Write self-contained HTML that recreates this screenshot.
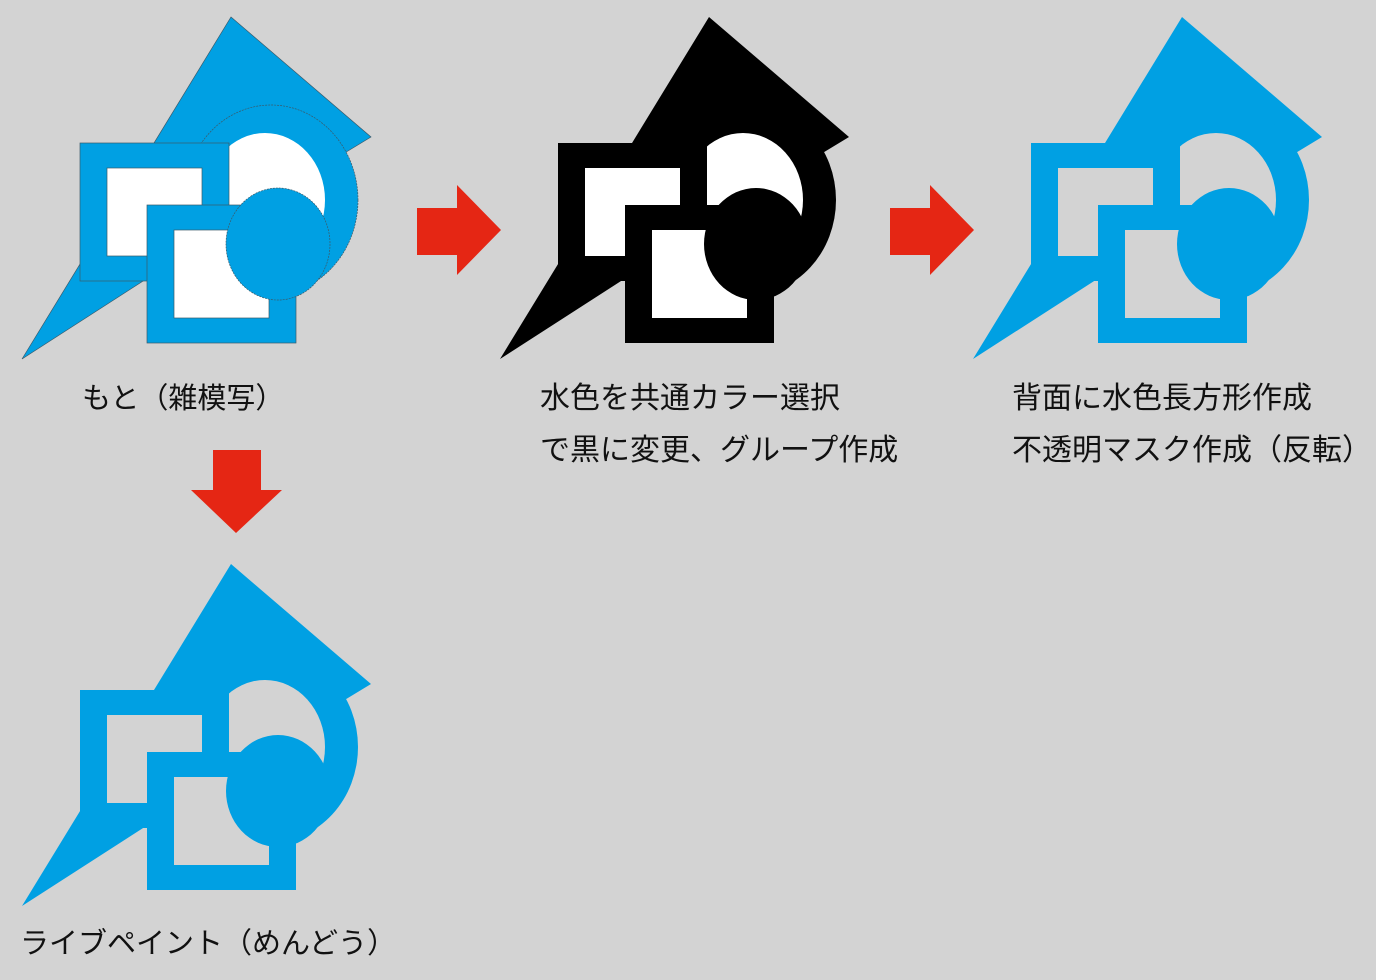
<!DOCTYPE html>
<html><head><meta charset="utf-8"><style>
html,body{margin:0;padding:0;background:#d3d3d3;}
svg{display:block}
text{font-family:"Liberation Sans","Noto Sans CJK JP",sans-serif;font-size:30px;fill:#111}
</style></head><body>
<svg width="1376" height="980" viewBox="0 0 1376 980" xmlns="http://www.w3.org/2000/svg">
<rect width="1376" height="980" fill="#d3d3d3"/>
<!-- panel 1 -->
<g stroke="#3a5a6a" stroke-width="0.7">
<polygon points="231,17 371,137 300,180 22,359" fill="#00a0e3"/>
<ellipse cx="271" cy="200" rx="87" ry="95" fill="#00a0e3" stroke-dasharray="2,1"/>
<ellipse cx="265" cy="200" rx="60" ry="67" fill="#fff" stroke="none"/>
<rect x="80" y="143" width="149" height="138" fill="#00a0e3"/>
<rect x="107" y="168" width="95" height="88" fill="#fff"/>
<rect x="147" y="205" width="149" height="138" fill="#00a0e3"/>
<rect x="174" y="230" width="95" height="88" fill="#fff"/>
<ellipse cx="278" cy="244" rx="52" ry="56" fill="#00a0e3" stroke-dasharray="2,1"/>
</g>
<!-- panel 2 -->
<g transform="translate(478,0)">
<polygon points="231,17 371,137 300,180 22,359" fill="#000"/>
<ellipse cx="271" cy="200" rx="87" ry="95" fill="#000"/>
<ellipse cx="265" cy="200" rx="60" ry="67" fill="#fff"/>
<rect x="80" y="143" width="149" height="138" fill="#000"/>
<rect x="107" y="168" width="95" height="88" fill="#fff"/>
<rect x="147" y="205" width="149" height="138" fill="#000"/>
<rect x="174" y="230" width="95" height="88" fill="#fff"/>
<ellipse cx="278" cy="244" rx="52" ry="56" fill="#000"/>
</g>
<!-- panel 3 -->
<g transform="translate(951,0)">
<polygon points="231,17 371,137 300,180 22,359" fill="#00a0e3"/>
<ellipse cx="271" cy="200" rx="87" ry="95" fill="#00a0e3"/>
<ellipse cx="265" cy="200" rx="60" ry="67" fill="#d3d3d3"/>
<rect x="80" y="143" width="149" height="138" fill="#00a0e3"/>
<rect x="107" y="168" width="95" height="88" fill="#d3d3d3"/>
<rect x="147" y="205" width="149" height="138" fill="#00a0e3"/>
<rect x="174" y="230" width="95" height="88" fill="#d3d3d3"/>
<ellipse cx="278" cy="244" rx="52" ry="56" fill="#00a0e3"/>
</g>
<!-- panel 4 -->
<g transform="translate(0,547)">
<polygon points="231,17 371,137 300,180 22,359" fill="#00a0e3"/>
<ellipse cx="271" cy="200" rx="87" ry="95" fill="#00a0e3"/>
<ellipse cx="265" cy="200" rx="60" ry="67" fill="#d3d3d3"/>
<rect x="80" y="143" width="149" height="138" fill="#00a0e3"/>
<rect x="107" y="168" width="95" height="88" fill="#d3d3d3"/>
<rect x="147" y="205" width="149" height="138" fill="#00a0e3"/>
<rect x="174" y="230" width="95" height="88" fill="#d3d3d3"/>
<ellipse cx="278" cy="244" rx="52" ry="56" fill="#00a0e3"/>
</g>
<!-- arrows -->
<polygon points="417,208 457,208 457,185 501,230 457,275 457,255 417,255" fill="#e52614"/>
<polygon points="890,208 930,208 930,185 974,230 930,275 930,255 890,255" fill="#e52614"/>
<polygon points="213,450 261,450 261,490 282,490 236,533 191,490 213,490" fill="#e52614"/>
<!-- labels -->
<text x="82" y="408" style="font-size:29px">もと（雑模写）</text>
<text x="540" y="408">水色を共通カラー選択</text>
<text x="540" y="460">で黒に変更、グループ作成</text>
<text x="1012" y="408">背面に水色長方形作成</text>
<text x="1012" y="460">不透明マスク作成（反転）</text>
<text x="20" y="953" style="font-size:29px">ライブペイント（めんどう）</text>
</svg>
</body></html>
